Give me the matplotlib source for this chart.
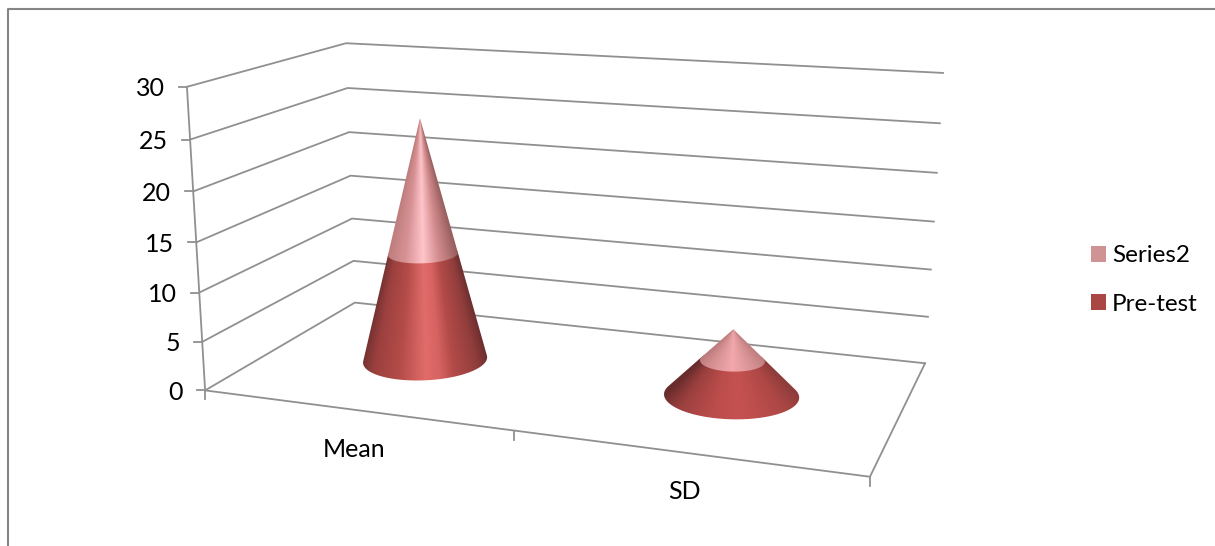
import numpy as np
import matplotlib
matplotlib.use("Agg")
import matplotlib.pyplot as plt
from matplotlib.colors import LinearSegmentedColormap
from matplotlib.patches import Patch, Polygon

categories = ["Mean", "SD"]
pretest = [11.3, 3.5]
series2 = [14.0, 3.2]
y_ticks = [0, 5, 10, 15, 20, 25, 30]
series_names = ["Series2", "Pre-test"]
legend_colors = ["#d09393", "#aa4644"]
grid_color = "#909090"

# chart box corners in image pixels: (x along categories, depth, value) -> (px, py)
box_3d = [(0, 0, 0), (0, 1, 0), (1, 1, 0), (1, 0, 0), (0, 0, 30), (0, 1, 30), (1, 1, 30)]
box_px = [(205, 390), (355, 303), (925, 363), (870, 477), (187, 87), (346, 43), (943, 73)]

rows, rhs = [], []
for (x, d, v), (px, py) in zip(box_3d, box_px):
    v = v / 30.0
    rows.append([x, d, v, 1, 0, 0, 0, 0, -px * x, -px * d, -px * v])
    rows.append([0, 0, 0, 0, x, d, v, 1, -py * x, -py * d, -py * v])
    rhs += [px, py]
cam = np.linalg.lstsq(np.array(rows, float), np.array(rhs, float), rcond=None)[0]
cam = np.append(cam, 1.0).reshape(3, 4)


def project(x, d, v):
    x, d, v = np.broadcast_arrays(np.asarray(x, float), np.asarray(d, float), np.asarray(v, float))
    pts = np.stack([x, d, v / 30.0, np.ones_like(x)], axis=-1) @ cam.T
    return pts[..., 0] / pts[..., 2], pts[..., 1] / pts[..., 2]


def hull(xs, ys):
    pts = sorted(set(zip(xs.tolist(), ys.tolist())))
    def half(seq):
        out = []
        for p in seq:
            while len(out) > 1 and (out[-1][0] - out[-2][0]) * (p[1] - out[-2][1]) - (out[-1][1] - out[-2][1]) * (p[0] - out[-2][0]) <= 0:
                out.pop()
            out.append(p)
        return out[:-1]
    return np.array(half(pts) + half(pts[::-1]))


def ring(cx, level, total, rx, rd):
    t = np.linspace(0, 2 * np.pi, 120)
    k = 1 - level / total
    return project(cx + rx * k * np.cos(t), 0.5 + rd * k * np.sin(t), np.full_like(t, level))


def shade(ax, poly, apex, base, half_w, stops, zorder):
    # paint a shaded image and clip it to the cone outline
    x0, y0 = np.floor(poly.min(axis=0)) - 1
    x1, y1 = np.ceil(poly.max(axis=0)) + 1
    gx, gy = np.meshgrid(np.arange(x0, x1, 0.5), np.arange(y0, y1, 0.5))
    scale = np.clip((gy - apex[1]) / (base[1] - apex[1]), 0.01, None)
    u = np.clip((gx - apex[0] - (base[0] - apex[0]) * scale) / (half_w * scale), -1, 1)
    cmap = LinearSegmentedColormap.from_list("c", [(p, tuple(c / 255 for c in col)) for p, col in stops])
    im = ax.imshow(cmap((u + 1) / 2), extent=(x0, x1, y1, y0), aspect="auto", zorder=zorder, interpolation="bilinear")
    im.set_clip_path(Polygon(poly, closed=True, transform=ax.transData))


fig = plt.figure(figsize=(12.15, 5.46), dpi=100)
ax = fig.add_axes([0, 0, 1, 1])
plt.rcParams["font.family"] = ["Lato", "DejaVu Sans"]

# outer frame, only top and left show
ax.plot([8, 8, 1215], [546, 9, 9], color="#858585", lw=1.5, zorder=1)

for v in y_ticks:
    px, py = project([0, 0, 1], [0, 1, 1], [v, v, v])
    ax.plot(px, py, color=grid_color, lw=1.3, zorder=1)
    ax.plot([px[0] - 8, px[0]], [py[0], py[0]], color=grid_color, lw=1.3, zorder=1)
    ax.text(px[0] - 22, py[0] + 2, str(v), ha="right", va="center", fontsize=18, color="black")

px, py = project([0, 0], [0, 0], [0, 30])
ax.plot(px, py, color=grid_color, lw=1.3, zorder=1)
px, py = project([0, 1, 1], [0, 0, 1], [0, 0, 0])
ax.plot(px, py, color=grid_color, lw=1.3, zorder=1)
for x in [0, 0.5, 1]:
    px, py = project(x, 0, 0)
    ax.plot([px, px], [py, py + 9], color=grid_color, lw=1.3, zorder=1)

# cones, shading stops differ because the flat one catches less light
low_stops = [
    [(0, (118, 50, 50)), (0.1, (155, 64, 62)), (0.3, (180, 76, 73)), (0.5, (225, 108, 106)), (0.6, (215, 100, 98)),
     (0.72, (178, 74, 72)), (0.9, (145, 62, 60)), (1, (110, 47, 47))],
    [(0, (105, 44, 44)), (0.18, (155, 64, 62)), (0.4, (187, 77, 75)), (0.55, (197, 82, 80)), (0.8, (175, 72, 70)), (1, (140, 60, 58))],
]
top_stops = [
    [(0, (190, 125, 125)), (0.25, (215, 145, 148)), (0.5, (255, 197, 202)), (0.72, (210, 140, 142)), (1, (150, 92, 92))],
    [(0, (190, 125, 125)), (0.5, (242, 168, 172)), (1, (190, 125, 125))],
]
cone_x = [0.25, 0.75]
cone_rx = [0.097, 0.1]
cone_rd = 0.21

for i, cx in enumerate(cone_x):
    total = pretest[i] + series2[i]
    bx, by = ring(cx, 0, total, cone_rx[i], cone_rd)
    sx, sy = ring(cx, pretest[i], total, cone_rx[i], cone_rd)
    apex = project(cx, 0.5, total)
    base = project(cx, 0.5, 0)
    half_w = (bx.max() - bx.min()) / 2
    shade(ax, hull(np.r_[bx, sx], np.r_[by, sy]), apex, base, half_w, low_stops[i], 3)
    shade(ax, hull(np.r_[sx, apex[0]], np.r_[sy, apex[1]]), apex, base, half_w, top_stops[i], 4)

for x, label, dx, dy in zip(cone_x, categories, [0, -1], [40, 39]):
    px, py = project(x, 0, 0)
    ax.text(px + dx, py + dy, label, ha="center", va="center", fontsize=18, color="black")

handles = [Patch(facecolor=c, label=n) for c, n in zip(legend_colors, series_names)]
ax.legend(handles=handles, loc="center left", bbox_to_anchor=(1091 / 1215, 1 - 280 / 546), frameon=False,
          fontsize=17.5, handlelength=0.62, handleheight=0.62, handletextpad=0.25, labelspacing=1.12,
          borderpad=0, borderaxespad=0, labelcolor="black")

ax.set_xlim(0, 1215)
ax.set_ylim(546, 0)
ax.axis("off")
fig.savefig("out.png", dpi=100)
